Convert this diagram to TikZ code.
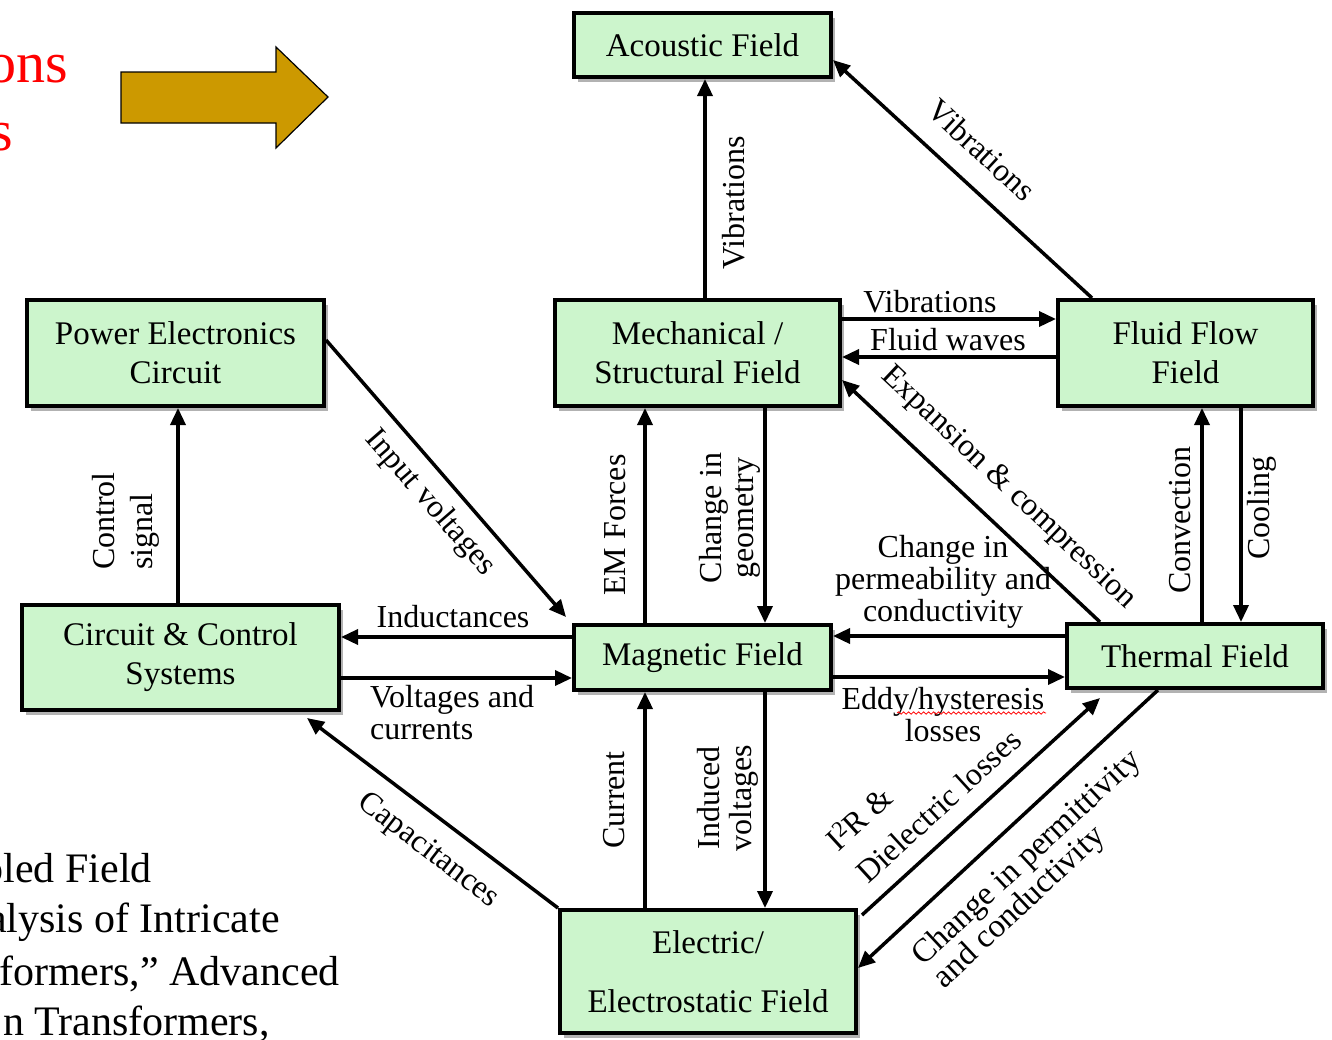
\documentclass[tikz,border=0pt]{standalone}
\usepackage{fontspec}
\setmainfont{Liberation Serif}
\usetikzlibrary{arrows.meta,shadows,decorations.pathmorphing}
\definecolor{boxgreen}{RGB}{204,245,204}
\definecolor{arrowgold}{RGB}{204,153,0}
\begin{document}
\begin{tikzpicture}[x=1pt,y=-1pt,
  box/.style={draw=black, line width=4pt, fill=boxgreen, align=center,
    font=\fontsize{33}{39}\selectfont, inner sep=0pt,
    drop shadow={shadow xshift=4pt, shadow yshift=-5pt, fill=black, opacity=0.3}},
  arr/.style={line width=3.5pt, -{Triangle[length=17pt,width=15pt]}},
  lbl/.style={font=\fontsize{32}{32}\selectfont, inner sep=0pt},
  cite/.style={font=\fontsize{42}{50}\selectfont, inner sep=0pt, anchor=base east},
  redtxt/.style={font=\fontsize{58}{68}\selectfont, inner sep=0pt, anchor=base east, text=red}]
\useasboundingbox (0,0) rectangle (1332,1039);
\fill[white] (0,0) rectangle (1332,1039);

% header fragments and gold arrow
\node[redtxt] (hdA) at (68,82) {ons};
\node[redtxt] (hdB) at (13,150) {s};
\draw[fill=arrowgold, line width=1.2pt] (121,72) -- (276,72) -- (276,47) -- (328,97) -- (276,148) -- (276,123) -- (121,123) -- cycle;

% citation fragments
\node[cite] (ctA) at (152,882) {oled Field};
\node[cite] (ctB) at (280,932) {alysis of Intricate};
\node[cite] (ctC) at (340,985) {formers,” Advanced};
\node[cite] (ctD) at (270,1035) {n Transformers,};

% boxes
\node[box, minimum width=257pt, minimum height=64pt] (acoustic) at (702.5,45) {Acoustic Field};
\node[box, minimum width=297pt, minimum height=106pt] (pe) at (175.5,353) {Power Electronics\\Circuit};
\node[box, minimum width=285pt, minimum height=106pt] (mech) at (697.5,353) {Mechanical /\\Structural Field};
\node[box, minimum width=255pt, minimum height=106pt] (fluid) at (1185.5,353) {Fluid Flow\\Field};
\node[box, minimum width=317pt, minimum height=105pt] (circuit) at (180.5,657.5) {Circuit \& Control\\Systems};
\node[box, minimum width=257pt, minimum height=65pt] (magnetic) at (702.5,657.5) {Magnetic Field};
\node[box, minimum width=256pt, minimum height=64pt] (thermal) at (1195,656) {Thermal Field};
\node[box, minimum width=296pt, minimum height=123pt] (electric) at (708,971.5) {Electric/\\[20pt]Electrostatic Field};

% helper coordinates
\coordinate (xA) at (705,0);
\coordinate (xB) at (645,0);
\coordinate (xC) at (765,0);
\coordinate (xD) at (178,0);
\coordinate (xE) at (1202,0);
\coordinate (xF) at (1241,0);
\coordinate (xG) at (1092,0);
\coordinate (xH) at (1100,0);
\coordinate (xI) at (1158,0);
\coordinate (yA) at (0,319);
\coordinate (yB) at (0,357);
\coordinate (yC) at (0,637);
\coordinate (yD) at (0,678);
\coordinate (yE) at (0,636);
\coordinate (yF) at (0,677);

% connectors
\draw[arr] (mech.north -| xA) -- (acoustic.south -| xA);
\draw[arr] (fluid.north -| xG) -- ([yshift=-15pt]acoustic.east);
\draw[arr] (mech.east |- yA) -- (fluid.west |- yA);
\draw[arr] (fluid.west |- yB) -- (mech.east |- yB);
\draw[arr] (thermal.north -| xH) -- ([yshift=-27pt]mech.east);
\draw[arr] (mech.south -| xC) -- (magnetic.north -| xC);
\draw[arr] (magnetic.north -| xB) -- (mech.south -| xB);
\draw[arr] ([yshift=13pt]pe.east) -- ([xshift=-6pt,yshift=6pt]magnetic.north west);
\draw[arr] (circuit.north -| xD) -- (pe.south -| xD);
\draw[arr] (magnetic.west |- yC) -- (circuit.east |- yC);
\draw[arr] (circuit.east |- yD) -- (magnetic.west |- yD);
\draw[arr] (electric.north west) -- ([xshift=-34pt,yshift=-6pt]circuit.south east);
\draw[arr] (electric.north -| xB) -- (magnetic.south -| xB);
\draw[arr] (magnetic.south -| xC) -- (electric.north -| xC);
\draw[arr] (thermal.west |- yE) -- (magnetic.east |- yE);
\draw[arr] (magnetic.east |- yF) -- (thermal.west |- yF);
\draw[arr] ([xshift=4pt,yshift=-7pt]electric.north east) -- ([xshift=35pt,yshift=-8pt]thermal.south west);
\draw[arr] (thermal.south -| xI) -- ([yshift=3.5pt]electric.east);
\draw[arr] (thermal.north -| xE) -- (fluid.south -| xE);
\draw[arr] (fluid.south -| xF) -- (thermal.north -| xF);

% labels
\node[lbl, rotate=90] (l1) at (734,203) {Vibrations};
\node[lbl, rotate=-42.8] (l2) at (982,150) {Vibrations};
\node[lbl] (l3) at (930,302) {Vibrations};
\node[lbl] (l4) at (948,340) {Fluid waves};
\node[lbl, rotate=-43.3] (l5) at (1008,488) {Expansion \& compression};
\node[lbl, rotate=90, align=center] (l6) at (730,518) {Change in\\geometry};
\node[lbl, rotate=90] (l7) at (615,525) {EM Forces};
\node[lbl, rotate=-49] (l8) at (430,503) {Input voltages};
\node[lbl, rotate=90, align=left, font=\fontsize{32}{38}\selectfont] (l9) at (126,521) {Control\\signal};
\node[lbl] (l10) at (453,617) {Inductances};
\node[lbl, align=left, anchor=west] (l11) at (370,713) {Voltages and\\currents};
\node[lbl, rotate=-37.5] (l12) at (428,851) {Capacitances};
\node[lbl, rotate=90] (l13) at (614,800) {Current};
\node[lbl, rotate=90, align=center] (l14) at (728,798) {Induced\\voltages};
\node[lbl, align=center] (l15) at (943,582) {Change in\\permeability and\\conductivity};
\node[lbl, align=center] (l16) at (943,715) {Eddy/hysteresis\\losses};
\node[lbl, rotate=42.4, align=left] (l17) at (923,789) {I\textsuperscript{2}R \&\\[12pt]Dielectric losses};
\node[lbl, rotate=43, align=left, font=\fontsize{33}{30}\selectfont] (l18) at (1038,870) {Change in permittivity\\and conductivity};
\node[lbl, rotate=90] (l19) at (1180,520) {Convection};
\node[lbl, rotate=90] (l20) at (1262,508) {Cooling};
\draw[red, line width=0.8pt, decorate, decoration={snake, amplitude=1.2pt, segment length=5pt}] (897,713) -- (1046,713);
\end{tikzpicture}
\end{document}
